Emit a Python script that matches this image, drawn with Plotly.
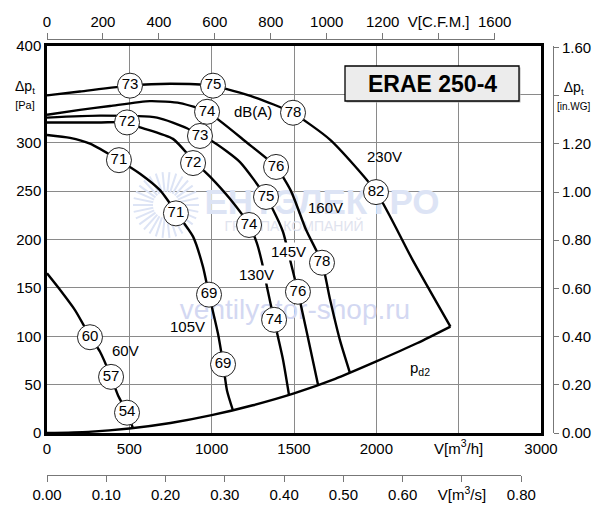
import math
import plotly.graph_objects as go

# ---------------- data ----------------
# dynamic pressure curve p_d2  (V in m3/h, p in Pa)
pd2_V = [0, 250, 500, 750, 1000, 1250, 1500, 1750, 2000, 2250, 2450]
pd2_P = [0, 1.2, 4.6, 10.3, 18.4, 28.7, 41, 56, 74, 93, 110]

v230_V = [0, 200, 500, 750, 1000, 1260, 1490, 1720, 2000, 2220, 2450]
v230_P = [349, 353, 359, 361, 359, 347, 331, 303, 249, 179, 110]

v160_V = [0, 200, 383, 625, 808, 972, 1215, 1391, 1482, 1573, 1670, 1719, 1779, 1840]
v160_P = [329, 334, 338, 343, 341, 332, 300, 275, 250, 210, 176, 138, 96, 62]

v145_V = [0, 322, 668, 850, 929, 1008, 1172, 1330, 1372, 1433, 1476, 1524, 1579, 1646]
v145_P = [326, 328, 326, 315, 307, 301, 280, 244, 231, 208, 179, 146, 103, 50]

v130_V = [0, 322, 486, 565, 765, 887, 990, 1111, 1227, 1275, 1306, 1336, 1379, 1433, 1470]
v130_P = [321, 321, 321, 316, 304, 282, 265, 242, 215, 196, 176, 151, 117, 76, 39]

v105_V = [0, 140, 261, 437, 565, 686, 789, 887, 947, 984, 1038, 1069, 1093, 1130]
v105_P = [308, 305, 299, 282, 268, 251, 227, 203, 172, 143, 103, 72, 44, 23]

v60_V = [0, 79, 170, 261, 322, 389, 431, 486, 522]
v60_P = [165, 148, 127, 100, 84, 58, 39, 21, 5]

# sound level markers dB(A)
c230_V = [504, 1008, 1494, 1998]; c230_P = [359, 359, 331, 249]; c230_L = ["73", "75", "78", "82"]
c160_V = [972, 1391, 1670];       c160_P = [332, 275, 176];      c160_L = ["74", "76", "78"]
c145_V = [929, 1330, 1524];       c145_P = [307, 244, 146];      c145_L = ["73", "75", "76"]
c130_V = [486, 887, 1227, 1379];  c130_P = [321, 279, 215, 117]; c130_L = ["72", "72", "74", "74"]
c105_V = [437, 783, 984, 1069];   c105_P = [282, 227, 143, 71];  c105_L = ["71", "71", "69", "69"]
c60_V = [261, 389, 486];          c60_P = [99, 58, 21];          c60_L = ["60", "57", "54"]

# axis ticks
x_ticks = [0, 500, 1000, 1500, 2000, 2500, 3000]
x_text = ["0", "500", "1000", "1500", "2000", "V[m<sup>3</sup>/h]", "3000"]
y_ticks = [0, 50, 100, 150, 200, 250, 300, 350, 400]
y_text = ["0", "50", "100", "150", "200", "250", "300", "", "400"]
cfm_ticks = [0, 200, 400, 600, 800, 1000, 1200, 1400, 1600]
cfm_text = ["0", "200", "400", "600", "800", "1000", "1200", "V[C.F.M.]", "1600"]
ms_ticks = [0, 0.1, 0.2, 0.3, 0.4, 0.5, 0.6, 0.7, 0.8]
ms_text = ["0.00", "0.10", "0.20", "0.30", "0.40", "0.50", "0.60", "V[m<sup>3</sup>/s]", "0.80"]
wg_ticks = [0, 0.2, 0.4, 0.6, 0.8, 1.0, 1.2, 1.4, 1.6]
wg_text = ["0.00", "0.20", "0.40", "0.60", "0.80", "1.00", "1.20", "", "1.60"]
pa_title = "Δp<sub>t</sub><br><span style='font-size:11px'>[Pa]</span>"
wg_title = "Δp<sub>t</sub><br><span style='font-size:10px'>[in.WG]</span>"

# ---------------- layout geometry ----------------
# the page body has an 8px margin, so the figure is 8px smaller and all
# page-pixel positions are shifted by OFF
OFF = 8
W, H = 600 - OFF, 508 - OFF
PX0, PX1, PY0, PY1 = 47, 541, 433, 46          # plot frame in page pixels
XMAX, YMAX = 3000, 400
FONT = "Liberation Sans, Arial, sans-serif"


def fx(px):      # page px -> paper fraction (x)
    return (px - OFF) / W


def fy(py):      # page px -> paper fraction (y)
    return (H - (py - OFF)) / H


def dx(px):      # page px -> data V
    return (px - PX0) * XMAX / (PX1 - PX0)


def dy(py):      # page px -> data p
    return (PY0 - py) * YMAX / (PY0 - PY1)


fig = go.Figure()

# ---------------- watermark (behind everything) ----------------
wm = "#dde4f5"
cx, cy = 166, 205
sx, sy = [], []
for k in range(30):
    a = 2 * math.pi * k / 30
    sx += [dx(cx + 13 * math.cos(a)), dx(cx + 33 * math.cos(a)), None]
    sy += [dy(cy + 13 * math.sin(a)), dy(cy + 33 * math.sin(a)), None]
fig.add_trace(go.Scatter(x=sx, y=sy, mode="lines", line=dict(color=wm, width=2),
                         hoverinfo="skip", showlegend=False))
for t, px, py, sz, col in [("<b>ЕНТЭЛЕКТРО</b>", 322, 205, 35, wm),
                           ("ГРУППА КОМПАНИЙ", 294, 227, 14, "#dfe3ee"),
                           ("ventilyator-shop.ru", 295, 312, 28, "#d3d8f2")]:
    fig.add_trace(go.Scatter(x=[dx(px)], y=[dy(py)], mode="text", text=[t],
                             textfont=dict(family=FONT, size=sz, color=col),
                             textposition="middle center", hoverinfo="skip",
                             showlegend=False))

# ---------------- curves ----------------
line_style = dict(color="black", width=2.4, shape="spline", smoothing=0.6)
for V, P in [(pd2_V, pd2_P), (v230_V, v230_P), (v160_V, v160_P), (v145_V, v145_P),
             (v130_V, v130_P), (v105_V, v105_P), (v60_V, v60_P)]:
    fig.add_trace(go.Scatter(x=V, y=P, mode="lines", line=line_style,
                             hoverinfo="skip", showlegend=False))

# ---------------- dB(A) circles ----------------
for V, P, L in [(c230_V, c230_P, c230_L), (c160_V, c160_P, c160_L), (c145_V, c145_P, c145_L),
                (c130_V, c130_P, c130_L), (c105_V, c105_P, c105_L), (c60_V, c60_P, c60_L)]:
    fig.add_trace(go.Scatter(
        x=V, y=P, mode="markers+text", text=L, textposition="middle center",
        textfont=dict(family=FONT, size=15, color="black"),
        marker=dict(symbol="circle", size=25, color="white",
                    line=dict(color="#222222", width=1)),
        hoverinfo="skip", showlegend=False))

# dummy traces so the extra axes are drawn
fig.add_trace(go.Scatter(x=[0], y=[0], xaxis="x", yaxis="y2", mode="markers",
                         marker=dict(opacity=0), showlegend=False, hoverinfo="skip"))
fig.add_trace(go.Scatter(x=[0], y=[0], xaxis="x3", yaxis="y3", mode="markers",
                         marker=dict(opacity=0), showlegend=False, hoverinfo="skip"))
fig.add_trace(go.Scatter(x=[0], y=[0], xaxis="x4", yaxis="y4", mode="markers",
                         marker=dict(opacity=0), showlegend=False, hoverinfo="skip"))

# ---------------- text labels ----------------
labels = [("dB(A)", 253, 112, None), ("230V", 384, 157, None), ("160V", 325, 208, None),
          ("145V", 288, 252, "white"), ("130V", 256, 274, "white"), ("105V", 187, 326, None),
          ("60V", 125, 350, None), ("p<sub>d2</sub>", 420, 368, None)]
for t, px, py, bg in labels:
    fig.add_annotation(x=dx(px), y=dy(py), text=t, showarrow=False,
                       font=dict(family=FONT, size=15, color="black"),
                       bgcolor=bg if bg else "rgba(0,0,0,0)", borderpad=0,
                       xanchor="center", yanchor="middle")

# pressure axis titles sitting at the 350 Pa / 1.40 in.WG tick places
fig.add_annotation(xref="paper", yref="y", x=fx(25), y=350, text=pa_title,
                   showarrow=False, font=dict(family=FONT, size=14, color="black"),
                   xanchor="center", yanchor="middle")
fig.add_annotation(xref="paper", yref="y2", x=fx(574), y=1.40, text=wg_title,
                   showarrow=False, font=dict(family=FONT, size=14, color="black"),
                   xanchor="center", yanchor="middle")

# title box
fig.add_shape(type="rect", x0=dx(346.5), x1=dx(520.5), y0=dy(102.5), y1=dy(67.5),
              fillcolor="#b4b4b4", line=dict(width=0), layer="above")
fig.add_shape(type="rect", x0=dx(345), x1=dx(519), y0=dy(101), y1=dy(66),
              fillcolor="#ececec", line=dict(color="black", width=1.3), layer="above")
fig.add_annotation(x=dx(432), y=dy(84), text="<b>ERAE 250-4</b>", showarrow=False,
                   font=dict(family=FONT, size=23, color="black"),
                   xanchor="center", yanchor="middle")

# ---------------- axes ----------------
tickfont = dict(family=FONT, size=15, color="black")
grid = "#8a8a8a"
cfm_end_px = PX0 + 1600 * 1.699011 * (PX1 - PX0) / XMAX
ms_end_px = PX0 + 2880 * (PX1 - PX0) / XMAX

fig.update_layout(
    width=W, height=H,
    margin=dict(l=0, r=0, t=0, b=0, autoexpand=False),
    paper_bgcolor="white", plot_bgcolor="rgba(0,0,0,0)",
    showlegend=False,
    xaxis=dict(domain=[fx(PX0), fx(PX1)], range=[0, XMAX], tickvals=x_ticks, ticktext=x_text,
               showgrid=True, gridcolor=grid, gridwidth=1, zeroline=False,
               showline=True, linecolor="black", linewidth=2.5, mirror=True,
               ticks="", tickfont=tickfont, anchor="y", automargin=False),
    yaxis=dict(domain=[fy(PY0), fy(PY1)], range=[0, YMAX], tickvals=y_ticks, ticktext=y_text,
               showgrid=True, gridcolor=grid, gridwidth=1, zeroline=False,
               showline=True, linecolor="black", linewidth=2.5, mirror=True,
               ticks="", tickfont=tickfont, anchor="x", automargin=False),
    yaxis2=dict(overlaying="y", anchor="free", position=fx(553), side="right",
                range=[0, YMAX / 249.089], tickvals=wg_ticks, ticktext=wg_text,
                showgrid=False, zeroline=False, showline=True, linecolor="#777777",
                linewidth=1, ticks="outside", ticklen=5, tickcolor="#777777",
                tickfont=tickfont, automargin=False),
    # helper invisible y axes carrying the extra horizontal scales
    yaxis3=dict(domain=[fy(41), fy(40)], anchor="x3", visible=False,
                range=[0, 1], automargin=False),
    yaxis4=dict(domain=[fy(475), fy(474)], anchor="x4", visible=False,
                range=[0, 1], automargin=False),
    xaxis3=dict(anchor="y3", side="top", domain=[fx(PX0), fx(cfm_end_px)],
                range=[0, 1600], tickvals=cfm_ticks, ticktext=cfm_text,
                showgrid=False, zeroline=False, showline=True, linecolor="#777777",
                linewidth=1, ticks="outside", ticklen=6, tickcolor="#777777",
                tickfont=tickfont, automargin=False),
    xaxis4=dict(anchor="y4", side="bottom", domain=[fx(PX0), fx(ms_end_px)],
                range=[0, 0.8], tickvals=ms_ticks, ticktext=ms_text,
                showgrid=False, zeroline=False, showline=True, linecolor="#777777",
                linewidth=1, ticks="outside", ticklen=6, tickcolor="#777777",
                tickfont=tickfont, automargin=False),
)

fig.write_html("out.html")
